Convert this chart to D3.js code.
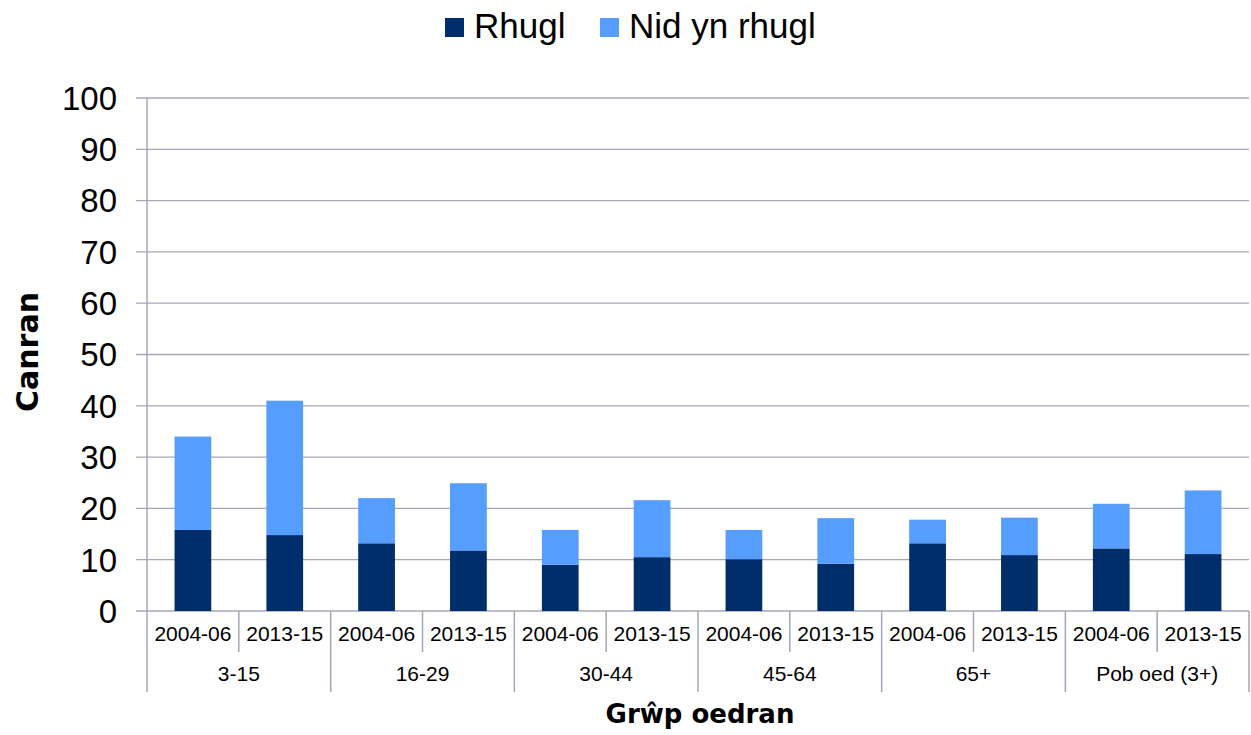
<!DOCTYPE html>
<html lang="cy">
<head>
<meta charset="UTF-8">
<script src="https://d3js.org/d3.v7.min.js"></script>
<style>
  body { margin: 0; background: #fff; }
  text { font-family: "Liberation Sans", Arial, sans-serif; fill: #000; }
  .title { font-family: "DejaVu Sans", sans-serif; font-weight: bold; }
</style>
</head>
<body>
<div id="chart"></div>
<script>
// age groups and survey periods
const groups = ["3-15", "16-29", "30-44", "45-64", "65+", "Pob oed (3+)"];
const periods = ["2004-06", "2013-15"];

// values per bar (group x period), percent
const rhugl = [15.8, 14.8, 13.2, 11.8, 9.0, 10.5, 10.1, 9.2, 13.2, 10.9, 12.2, 11.1];
const nidRhugl = [18.2, 26.2, 8.8, 13.1, 6.8, 11.1, 5.7, 8.9, 4.6, 7.3, 8.7, 12.4];

const yTicks = [0, 10, 20, 30, 40, 50, 60, 70, 80, 90, 100];
const seriesNames = ["Rhugl", "Nid yn rhugl"];
const colors = ["#002e6a", "#559dff"];

const W = 1251, H = 735;
const plotLeft = 147, plotRight = 1249, plotTop = 98, plotBottom = 611;
const gridColor = "#a4a7bb";

const svg = d3.select("#chart").append("svg")
  .attr("width", W).attr("height", H);

// build bar rows
const rows = [];
groups.forEach((g, gi) => {
  periods.forEach((p, pi) => {
    const i = gi * 2 + pi;
    rows.push({ key: g + "|" + p, group: g, period: p, Rhugl: rhugl[i], "Nid yn rhugl": nidRhugl[i] });
  });
});

const x = d3.scaleBand().domain(rows.map(d => d.key)).range([plotLeft, plotRight]).paddingInner(0).paddingOuter(0);
const y = d3.scaleLinear().domain([0, 100]).range([plotBottom, plotTop]);

// gridlines
svg.append("g").selectAll("line")
  .data(yTicks).enter().append("line")
  .attr("x1", plotLeft - 11).attr("x2", plotRight)
  .attr("y1", d => y(d)).attr("y2", d => y(d))
  .attr("stroke", gridColor).attr("stroke-width", 1.3);

// y tick labels
svg.append("g").selectAll("text")
  .data(yTicks).enter().append("text")
  .attr("x", 117).attr("y", d => y(d))
  .attr("dy", "0.36em")
  .attr("text-anchor", "end")
  .style("font-size", "33px")
  .text(d => d);

// stacked bars
const stack = d3.stack().keys(seriesNames)(rows);
const bw = x.bandwidth() * 0.4;
svg.append("g").selectAll("g")
  .data(stack).enter().append("g")
  .attr("fill", (d, i) => colors[i])
  .selectAll("rect")
  .data(d => d).enter().append("rect")
  .attr("x", d => x(d.data.key) + (x.bandwidth() - bw) / 2)
  .attr("width", bw)
  .attr("y", d => y(d[1]))
  .attr("height", d => y(d[0]) - y(d[1]));

// y axis line
svg.append("line")
  .attr("x1", plotLeft).attr("x2", plotLeft)
  .attr("y1", plotTop).attr("y2", plotBottom)
  .attr("stroke", gridColor).attr("stroke-width", 1.5);

// category separators
const axisG = svg.append("g");
rows.forEach((d, i) => {
  const xs = x(d.key);
  const long = i % 2 === 0;
  axisG.append("line")
    .attr("x1", xs).attr("x2", xs)
    .attr("y1", plotBottom).attr("y2", long ? 692 : 652)
    .attr("stroke", gridColor).attr("stroke-width", 1.5);
});
axisG.append("line")
  .attr("x1", plotRight).attr("x2", plotRight)
  .attr("y1", plotBottom).attr("y2", 692)
  .attr("stroke", gridColor).attr("stroke-width", 1.5);

// period labels
axisG.selectAll("text.period")
  .data(rows).enter().append("text")
  .attr("class", "period")
  .attr("x", d => x(d.key) + x.bandwidth() / 2)
  .attr("y", 641)
  .attr("text-anchor", "middle")
  .style("font-size", "21px")
  .text(d => d.period);

// group labels
axisG.selectAll("text.group")
  .data(groups).enter().append("text")
  .attr("class", "group")
  .attr("x", g => x(g + "|" + periods[0]) + x.bandwidth())
  .attr("y", 681)
  .attr("text-anchor", "middle")
  .style("font-size", "21px")
  .text(g => g);

// axis titles
svg.append("text")
  .attr("class", "title")
  .attr("x", 700).attr("y", 723)
  .attr("text-anchor", "middle")
  .style("font-size", "26px")
  .text("Grŵp oedran");

svg.append("text")
  .attr("class", "title")
  .attr("transform", "translate(38,352) rotate(-90)")
  .attr("text-anchor", "middle")
  .style("font-size", "30px")
  .text("Canran");

// legend
const legendX = [445, 600];
const legend = svg.append("g");
seriesNames.forEach((s, i) => {
  legend.append("rect")
    .attr("x", legendX[i]).attr("y", 18)
    .attr("width", 19).attr("height", 19)
    .attr("fill", colors[i]);
  legend.append("text")
    .attr("x", legendX[i] + 29).attr("y", 38)
    .style("font-size", "35px")
    .text(s);
});
</script>
</body>
</html>
